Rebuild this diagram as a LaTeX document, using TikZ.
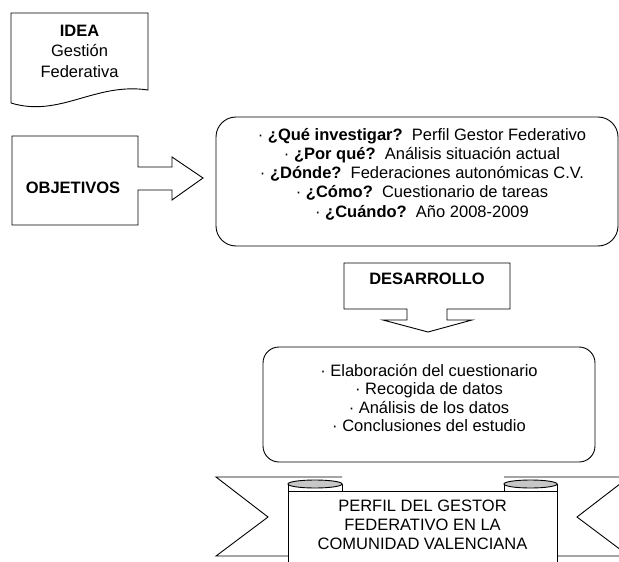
\documentclass[tikz,border=0pt]{standalone}
\usepackage{fontspec}
\setmainfont{Liberation Sans}
\begin{document}
\begin{tikzpicture}[x=1pt,y=-1pt,
  outline/.style={draw=black,line width=0.9pt,line join=miter},
  txt/.style={align=center,inner sep=0pt,font=\fontsize{16.5}{19.3}\selectfont},
  txtb/.style={txt,font=\fontsize{16.5}{18.5}\selectfont},
  txti/.style={txt,font=\fontsize{16.5}{20.5}\selectfont},
  curl/.style={draw=black,line width=0.9pt,fill=black!22}]
\useasboundingbox (0,0) rectangle (619,562);
\clip (0,0) rectangle (619,562);
% IDEA document
\draw[outline,fill=white] (11,13) -- (148,13) -- (148,90)
  .. controls (95,82) and (60,118) .. (11,103) -- cycle;
\node[txti] (idea) at (79.5,51) {\textbf{IDEA}\\Gestión\\Federativa};
% OBJETIVOS callout
\draw[outline] (12,136) -- (138,136) -- (138,167) -- (172,167) -- (172,157)
  -- (203,178) -- (172,200) -- (172,190) -- (138,190) -- (138,225)
  -- (12,225) -- cycle;
\node[txt] (obj) at (73,188) {\textbf{OBJETIVOS}};
% Questions box
\draw[outline,rounded corners=20pt] (216,117) rectangle (618,246);
\node[txt] (q) at (422,174) {%
  · \textbf{¿Qué investigar?}\ \ Perfil Gestor Federativo\\
  · \textbf{¿Por qué?}\ \ Análisis situación actual\\
  · \textbf{¿Dónde?}\ \ Federaciones autonómicas C.V.\\
  · \textbf{¿Cómo?}\ \ Cuestionario de tareas\\
  · \textbf{¿Cuándo?}\ \ Año 2008-2009};
% DESARROLLO callout
\draw[outline] (344,263) -- (510,263) -- (510,309) -- (447,309) -- (447,320)
  -- (472,320) -- (428,332) -- (383,320) -- (407,320) -- (407,309)
  -- (344,309) -- cycle;
\node[txt] (des) at (427,279) {\textbf{DESARROLLO}};
% Steps box
\draw[outline,rounded corners=16pt] (263,347) rectangle (595,462);
\node[txtb] (steps) at (429,398) {%
  · Elaboración del cuestionario\\
  · Recogida de datos\\
  · Análisis de los datos\\
  · Conclusiones del estudio};
% Ribbon: tails
\draw[outline] (342,477) -- (216,477) -- (268,517) -- (216,556) -- (288,556);
\draw[outline] (504,477) -- (629,477) -- (577,517) -- (629,556) -- (557,556);
% Ribbon: panel
\draw[outline,fill=white] (288,575) -- (288,484) -- (288,491) -- (557,491)
  -- (557,575);
\draw[outline] (342,484) -- (342,491);
\draw[outline] (504,484) -- (504,491);
\draw[curl] (315,484) ellipse [x radius=27pt,y radius=4pt];
\draw[curl] (530.5,484) ellipse [x radius=26.5pt,y radius=4pt];
\draw[outline] (288,484) -- (288,575);
\draw[outline] (557,484) -- (557,575);
\node[txt] (title) at (422.5,525) {PERFIL DEL GESTOR\\FEDERATIVO EN LA\\COMUNIDAD VALENCIANA};
\end{tikzpicture}
\end{document}
